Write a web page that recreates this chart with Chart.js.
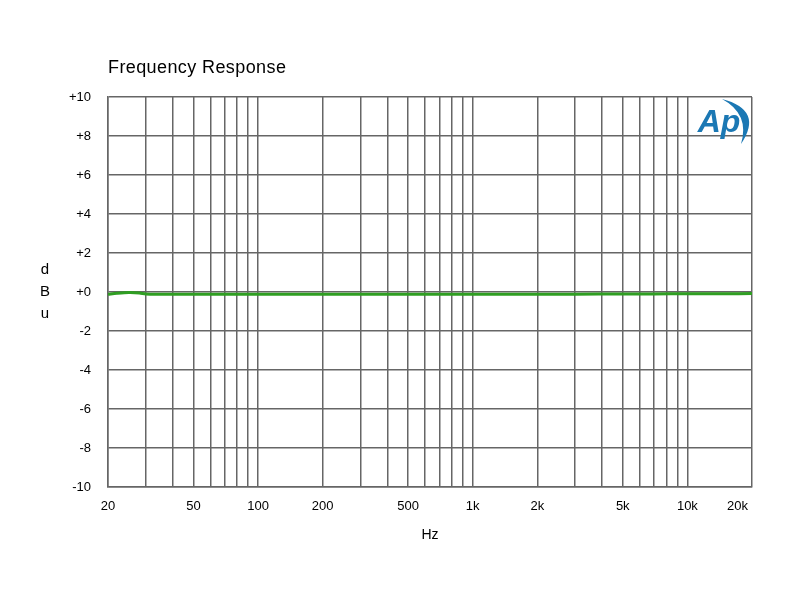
<!DOCTYPE html>
<html>
<head>
<meta charset="utf-8">
<script src="https://cdn.jsdelivr.net/npm/chart.js@4.4.0/dist/chart.umd.min.js"></script>
<style>
  html, body { margin: 0; padding: 0; background: #fff; }
  #wrap { width: 800px; height: 600px; }
</style>
</head>
<body>
<div id="wrap"><canvas id="c" width="800" height="600"></canvas></div>
<script>
const freqHz = [20, 22, 25, 28, 30, 35, 40, 50, 70, 100, 150, 200, 300, 500, 700, 1000, 1500, 2000, 3000, 5000, 7000, 10000, 15000, 20000];
const levelDbu = [-0.12, -0.07, -0.03, -0.05, -0.1, -0.11, -0.11, -0.11, -0.11, -0.11, -0.11, -0.11, -0.11, -0.11, -0.11, -0.11, -0.11, -0.11, -0.11, -0.1, -0.1, -0.09, -0.09, -0.08];

// Gitter / Beschriftung
const gridHz = [20, 30, 40, 50, 60, 70, 80, 90, 100, 200, 300, 400, 500, 600, 700, 800, 900,
  1000, 2000, 3000, 4000, 5000, 6000, 7000, 8000, 9000, 10000, 20000];
const xLabels = { 20: "20", 50: "50", 100: "100", 200: "200", 500: "500", 1000: "1k",
  2000: "2k", 5000: "5k", 10000: "10k", 20000: "20k\u2007\u2007\u2007\u2007" };
const yMin = -10, yMax = 10, yStep = 2;

const FONT = "'Liberation Sans', Arial, sans-serif";
const GRID = "#666666";
const AP_BLUE = "#1b78b4";

const decor = {
  id: "decor",
  afterDraw(chart) {
    const ctx = chart.ctx;
    const a = chart.chartArea;
    ctx.save();
    // Titel
    ctx.fillStyle = "#000";
    ctx.font = "18px " + FONT;
    ctx.letterSpacing = "0.4px";
    ctx.textBaseline = "middle";
    ctx.textAlign = "left";
    ctx.fillText("Frequency Response", a.left, 68);
    ctx.letterSpacing = "0px";
    // Achsentitel dBu, gestapelt
    ctx.font = "15px " + FONT;
    ctx.textAlign = "center";
    ["d", "B", "u"].forEach((ch, i) => ctx.fillText(ch, 45, 270 + i * 22));
    // AP-Logo: Sichel + Schriftzug
    ctx.fillStyle = AP_BLUE;
    ctx.beginPath();
    ctx.moveTo(722, 99);
    ctx.quadraticCurveTo(764, 110, 741, 144);
    ctx.quadraticCurveTo(750, 114, 722, 99);
    ctx.fill();
    ctx.font = "italic bold 32px " + FONT;
    ctx.textAlign = "center";
    ctx.fillText("Ap", 719, 123);
    ctx.restore();
  }
};

new Chart(document.getElementById("c"), {
  type: "line",
  data: {
    datasets: [{
      data: freqHz.map((f, i) => ({ x: f, y: levelDbu[i] })),
      borderColor: "#2f9e22",
      borderWidth: 3,
      pointRadius: 0,
      tension: 0.3,
      fill: false,
    }]
  },
  options: {
    responsive: false,
    animation: false,
    layout: { padding: { left: 0, top: 97, right: 48, bottom: 52 } },
    plugins: { legend: { display: false }, tooltip: { enabled: false } },
    scales: {
      x: {
        type: "logarithmic",
        min: 20, max: 20000,
        afterBuildTicks(s) { s.ticks = gridHz.map((v) => ({ value: v })); },
        afterFit(s) { s.height = 600 - 487 - 52; },
        ticks: {
          autoSkip: false, maxRotation: 0, padding: 12,
          color: "#000", font: { family: FONT, size: 13 },
          callback: (v) => xLabels[v] || "",
        },
        grid: { color: GRID, lineWidth: 1.5, drawTicks: false },
        border: { color: GRID, width: 1.5 },
        title: { display: true, text: "Hz", color: "#000", font: { family: FONT, size: 14 } },
      },
      y: {
        min: yMin, max: yMax,
        afterFit(s) { s.width = 108; },
        ticks: {
          stepSize: yStep, padding: 17,
          color: "#000", font: { family: FONT, size: 13 },
          callback: (v) => (v >= 0 ? "+" + v : String(v)),
        },
        grid: { color: GRID, lineWidth: 1.5, drawTicks: false },
        border: { color: GRID, width: 1.5 },
      }
    }
  },
  plugins: [decor]
});
</script>
</body>
</html>
